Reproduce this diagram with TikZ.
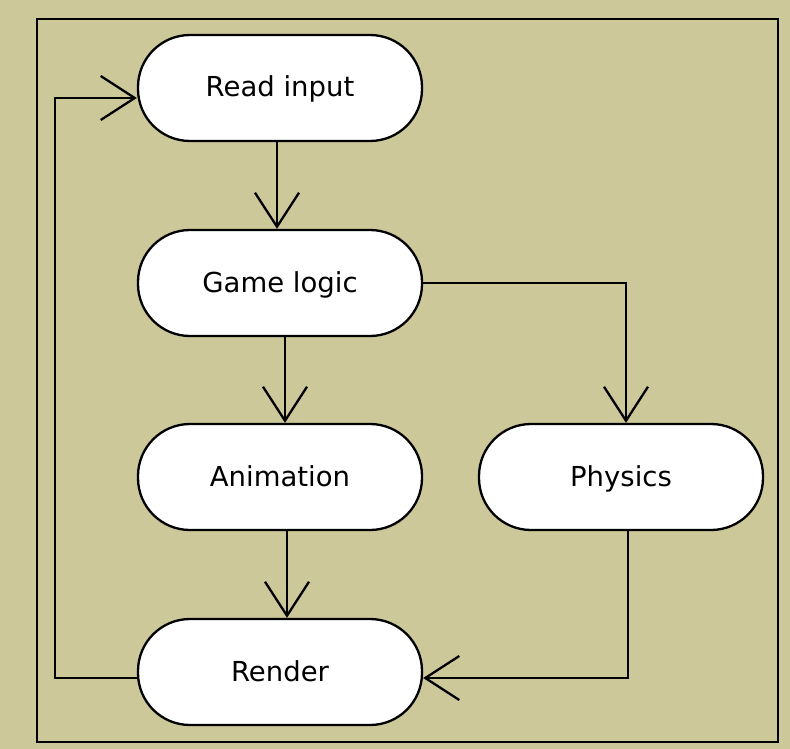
\documentclass[tikz,border=0pt]{standalone}
\usepackage{fontspec}
\setmainfont{DejaVu Sans}
\usetikzlibrary{arrows.meta}
\definecolor{bgk}{RGB}{204,200,154}
\begin{document}
\begin{tikzpicture}[x=1pt,y=-1pt,
  act/.style={draw=black,line width=2.3pt,fill=white,rounded corners=52pt,
    minimum width=284pt,minimum height=106pt,inner sep=0pt,
    text height=20pt,text depth=2pt,
    font=\fontsize{27.5}{30}\selectfont},
  conn/.style={line width=2.3pt,-{Straight Barb[length=34pt,width=44pt,line width=2.3pt]}}]
\fill[bgk] (0,0) rectangle (790,749);
\useasboundingbox (0,0) rectangle (790,749);
\draw[line width=2.6pt] (37,19) rectangle (778,742);
\node[act] (read) at (280,88) {Read input};
\node[act] (game) at (280,283) {Game logic};
\node[act] (anim) at (280,477) {Animation};
\node[act] (phys) at (621,477) {Physics};
\node[act] (rend) at (280,672) {Render};
\draw[conn] (read.south -| 277,0) -- (game.north -| 277,0);
\draw[conn] (game.south -| 285,0) -- (anim.north -| 285,0);
\draw[conn] (anim.south -| 287,0) -- (rend.north -| 287,0);
\draw[conn] (game.east) -- (626,283) -- (phys.north -| 626,0);
\draw[conn] (phys.south -| 628,0) -- (628,678) -- (rend.east |- 0,678);
\draw[conn] (rend.west |- 0,678) -- (55,678) -- (55,98) -- (read.west |- 0,98);
\end{tikzpicture}
\end{document}
